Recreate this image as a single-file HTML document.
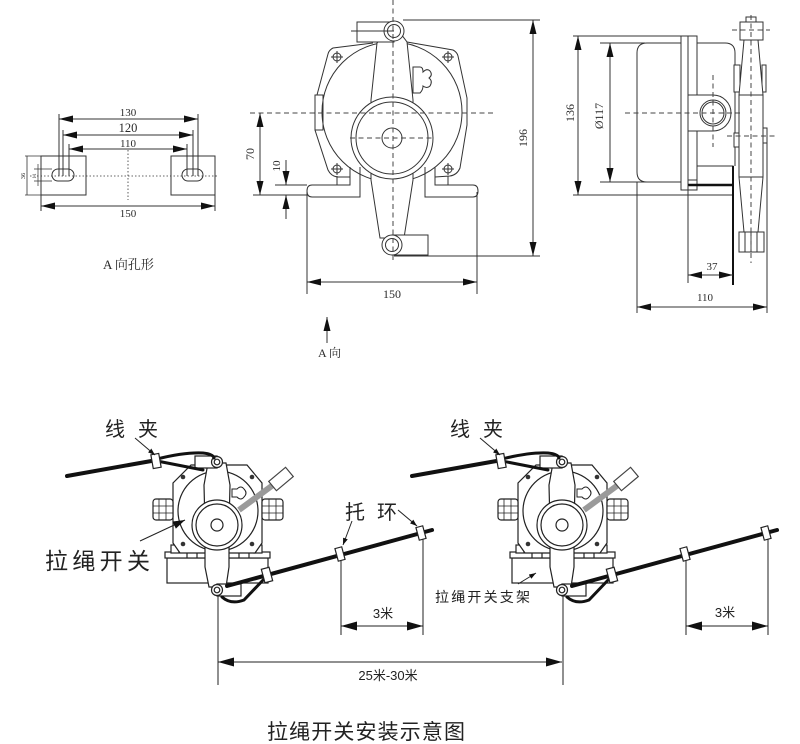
<!DOCTYPE html>
<html><head><meta charset="utf-8"><style>
html,body{margin:0;padding:0;background:#fff;}
svg{display:block;}
.s{font-family:"Liberation Serif","Noto Serif CJK SC",serif;fill:#2a2a2a;}
.k{font-family:"Liberation Sans","Noto Sans CJK SC",sans-serif;fill:#222;}
</style></head><body>
<svg width="800" height="744" viewBox="0 0 800 744" xmlns="http://www.w3.org/2000/svg">
<defs>
<marker id="ar" markerWidth="14" markerHeight="7" refX="14" refY="3.5" orient="auto-start-reverse" markerUnits="userSpaceOnUse"><path d="M0,0L14,3.5L0,7z" fill="#111"/></marker>
<marker id="ab" markerWidth="16" markerHeight="9" refX="16" refY="4.5" orient="auto-start-reverse" markerUnits="userSpaceOnUse"><path d="M0,0L16,4.5L0,9z" fill="#111"/></marker>
<marker id="as" markerWidth="7" markerHeight="5" refX="7" refY="2.5" orient="auto" markerUnits="userSpaceOnUse"><path d="M0,0L7,2.5L0,5z" fill="#111"/></marker>
<marker id="am" markerWidth="12" markerHeight="8" refX="12" refY="4" orient="auto" markerUnits="userSpaceOnUse"><path d="M0,0L12,4L0,8z" fill="#111"/></marker>

<g id="sw" stroke="#222" stroke-width="1.2">
  <!-- bracket -->
  <rect x="-50" y="33" width="101" height="25" fill="#fff"/>
  <rect x="-52" y="27" width="105" height="6" fill="#fff"/>
  <rect x="-46" y="20" width="8" height="8" fill="#fff"/>
  <rect x="37" y="20" width="8" height="8" fill="#fff"/>
  <line x1="-42" y1="17" x2="-42" y2="20"/>
  <line x1="41" y1="17" x2="41" y2="20"/>
  <!-- housing -->
  <polygon points="-26,-60 30,-60 45,-42 45,18 38,28 -37,28 -44,18 -44,-42" fill="#fff"/>
  <circle cx="1" cy="-14" r="40" fill="none"/>
  <path d="M-30,28 L-30,33 M-20,28 L-20,33 M22,28 L22,33 M32,28 L32,33" fill="none"/>
  <!-- bolts -->
  <g fill="#333" stroke="none">
    <circle cx="-34" cy="-48" r="2.3"/><circle cx="35" cy="-48" r="2.3"/>
    <circle cx="-34" cy="19" r="2.3"/><circle cx="35" cy="19" r="2.3"/>
  </g>
  <!-- trefoil -->
  <path d="M15,-36 L20,-36 Q24,-40 27,-36 Q31,-32 27,-28 Q24,-24 20,-28 L15,-28 Z" fill="#fff" stroke-width="1"/>
  <!-- glands -->
  <rect x="-64" y="-26" width="20" height="21" rx="3" fill="#fff"/>
  <path d="M-58,-26 V-5 M-51,-26 V-5 M-64,-19 H-44 M-64,-12 H-44" fill="none" stroke-width="0.8"/>
  <rect x="45" y="-26" width="21" height="21" rx="3" fill="#fff"/>
  <path d="M52,-26 V-5 M59,-26 V-5 M45,-19 H66 M45,-12 H66" fill="none" stroke-width="0.8"/>
  <!-- arm -->
  <polygon points="-9,-62 9,-62 13,-40 12,0 12,42 9,62 -8,62 -12,42 -12,0 -13,-40" fill="#fff"/>
  <!-- pulley -->
  <circle cx="0" cy="0" r="25" fill="#fff"/>
  <circle cx="0" cy="0" r="21" fill="none"/>
  <circle cx="0" cy="0" r="6" fill="#fff"/>
  <!-- rod + handle -->
  <line x1="22" y1="-15" x2="56" y2="-40" stroke="#9a9a9a" stroke-width="6"/>
  <rect x="-11" y="-6" width="22" height="12" fill="#fff" stroke="#444" transform="translate(64,-46) rotate(-40)"/>
  <!-- top lever -->
  <rect x="-22" y="-69" width="22" height="12" fill="#fff"/>
  <circle cx="0" cy="-63" r="5.5" fill="#fff"/>
  <circle cx="0" cy="-63" r="2.8" fill="none"/>
  <!-- bottom lever -->
  <rect x="0" y="59" width="24" height="12" fill="#fff"/>
  <circle cx="0" cy="65" r="5.5" fill="#fff"/>
  <circle cx="0" cy="65" r="2.8" fill="none"/>
  <!-- ropes -->
  <g stroke="#111" stroke-width="4" fill="none" stroke-linecap="round">
    <path d="M-150,-49 L-60,-65"/>
    <path d="M-60,-66 Q-32,-73 -14,-72 Q-4,-71 -3,-67" stroke-width="3"/>
    <path d="M-60,-64 L-14,-55" stroke-width="3"/>
    <path d="M10,61 L215,5"/>
    <path d="M5,72 Q14,80 27,75 L48,53" stroke-width="3"/>
  </g>
  <!-- clips -->
  <rect x="-4" y="-7" width="8" height="14" fill="#fff" transform="translate(-61,-64) rotate(-10)"/>
  <rect x="-4" y="-7" width="8" height="14" fill="#fff" transform="translate(50,50) rotate(-15)"/>
  <rect x="-3.5" y="-6.5" width="7" height="13" fill="#fff" transform="translate(123,29) rotate(-15)"/>
  <rect x="-3.5" y="-6.5" width="7" height="13" fill="#fff" transform="translate(204,8) rotate(-15)"/>
  <!-- dim lines -->
  <path d="M124,36 V110 M206,14 V110 M1,71 V160" fill="none" stroke-width="1"/>
  <line x1="124" y1="101" x2="206" y2="101" stroke-width="1" marker-start="url(#ab)" marker-end="url(#ab)"/>
</g>
</defs>

<!-- ===== A 向孔形 ===== -->
<g stroke="#333" stroke-width="1" fill="none">
  <rect x="41" y="156" width="45" height="39"/>
  <rect x="171" y="156" width="44" height="39"/>
  <rect x="52" y="169" width="22" height="12" rx="6"/>
  <rect x="182" y="169" width="21" height="12" rx="6"/>
  <line x1="30" y1="176" x2="218" y2="176" stroke-dasharray="1.5,2" stroke-width="0.8"/>
  <line x1="128" y1="150" x2="128" y2="200" stroke-dasharray="1.5,2" stroke-width="0.8"/>
  <path d="M59,114V176 M63,130V176 M69,144V176 M187,144V176 M193,130V176 M198,114V176"/>
  <line x1="59" y1="119" x2="198" y2="119" marker-start="url(#ar)" marker-end="url(#ar)"/>
  <line x1="63" y1="135" x2="193" y2="135" marker-start="url(#ar)" marker-end="url(#ar)"/>
  <line x1="69" y1="149" x2="187" y2="149" marker-start="url(#ar)" marker-end="url(#ar)"/>
  <path d="M41,195V211 M215,195V211"/>
  <line x1="41" y1="206" x2="215" y2="206" marker-start="url(#ar)" marker-end="url(#ar)"/>
  <path d="M25,156H41 M25,195H41 M27,156V195" stroke-width="0.8"/>
  <path d="M34,169H52 M34,181H52 M38,164V186" stroke-width="0.7"/>
</g>
<text class="s" x="128" y="116" font-size="11" text-anchor="middle">130</text>
<text class="s" x="128" y="132" font-size="12.5" text-anchor="middle">120</text>
<text class="s" x="128" y="147" font-size="11" text-anchor="middle">110</text>
<text class="s" x="128" y="217" font-size="11" text-anchor="middle">150</text>
<text class="s" font-size="6.5" transform="translate(25,176) rotate(-90)" text-anchor="middle">36</text>
<text class="s" font-size="5.5" transform="translate(36,176) rotate(-90)" text-anchor="middle">11</text>
<text class="s" x="103" y="269" font-size="13">A 向孔形</text>

<!-- ===== Front view ===== -->
<g stroke="#333" stroke-width="1" fill="none">
  <!-- housing -->
  <path d="M373,43 L333,48 Q329,50 328,54 L317,95 L315,130 L328,170 Q331,176 337,177 L350,177" />
  <path d="M407,42 L453,50 Q457,52 458,56 L467,98 L467,125 L460,168 Q457,175 450,176 L435,177"/>
  <rect x="315" y="95" width="8" height="35" fill="#fff"/>
  <circle cx="392" cy="112" r="70"/>
  <!-- bolts -->
  <g>
    <circle cx="337" cy="57" r="4"/><path d="M331,57H343M337,51V63"/>
    <circle cx="448" cy="57" r="4"/><path d="M442,57H454M448,51V63"/>
    <circle cx="337" cy="169" r="4"/><path d="M331,169H343M337,163V175"/>
    <circle cx="448" cy="169" r="4"/><path d="M442,169H454M448,163V175"/>
  </g>
  <!-- trefoil -->
  <path d="M413,67 L413,93 L420,93 Q423,90 423,86 Q427,89 430,86 Q433,81 429,78 Q433,75 430,71 Q427,68 423,72 Q423,67 420,67 Z" fill="#fff"/>
  <!-- feet / brackets -->
  <path d="M350,167 V185 H312 Q307,185 307,191 Q307,197 312,197 H360 V167"/>
  <path d="M337,176 V185"/>
  <path d="M435,167 V185 H473 Q478,185 478,191 Q478,197 473,197 H425 V167"/>
  <path d="M448,176 V185"/>
  <!-- arm -->
  <path d="M385,34 L377,43 L371,100 L371,180 L380,238 L404,238 L413,180 L413,100 L407,42 L401,34 Z" fill="#fff"/>
  <!-- pulley -->
  <circle cx="392" cy="138" r="41" fill="#fff"/>
  <circle cx="392" cy="138" r="36"/>
  <circle cx="392" cy="138" r="10" fill="#fff"/>
  <!-- top tab -->
  <rect x="357" y="22" width="37" height="20" fill="#fff"/>
  <circle cx="394" cy="31" r="10" fill="#fff"/>
  <circle cx="394" cy="31" r="6.5"/>
  <line x1="351" y1="31" x2="394" y2="31"/>
  <!-- bottom tab -->
  <rect x="392" y="235" width="36" height="20" fill="#fff"/>
  <circle cx="392" cy="245" r="10" fill="#fff"/>
  <circle cx="392" cy="245" r="6.5"/>
  <!-- centerlines -->
  <g stroke-dasharray="5,3.5" stroke="#444">
    <line x1="393" y1="0" x2="393" y2="262"/>
    <line x1="250" y1="113" x2="494" y2="113"/>
    <line x1="350" y1="138" x2="434" y2="138"/>
  </g>
  <!-- dims -->
  <path d="M403,20 H540 M394,256 H540"/>
  <line x1="533" y1="20" x2="533" y2="256" marker-start="url(#ar)" marker-end="url(#ar)"/>
  <line x1="260" y1="113" x2="260" y2="195" marker-start="url(#ar)" marker-end="url(#ar)"/>
  <path d="M253,195 H307 M275,185 H307"/>
  <line x1="286" y1="160" x2="286" y2="185" marker-end="url(#ar)"/>
  <line x1="286" y1="219" x2="286" y2="195" marker-end="url(#ar)"/>
  <path d="M307,192 V294 M477,192 V294"/>
  <line x1="307" y1="282" x2="477" y2="282" marker-start="url(#ar)" marker-end="url(#ar)"/>
  <line x1="327" y1="343" x2="327" y2="317" marker-end="url(#ar)"/>
</g>
<text class="s" font-size="12" transform="translate(254,154) rotate(-90)" text-anchor="middle">70</text>
<text class="s" font-size="11" transform="translate(280,166) rotate(-90)" text-anchor="middle">10</text>
<text class="s" font-size="12" transform="translate(527,138) rotate(-90)" text-anchor="middle">196</text>
<text class="s" x="392" y="298" font-size="12" text-anchor="middle">150</text>
<text class="s" x="318" y="357" font-size="12">A 向</text>

<!-- ===== Side view ===== -->
<g stroke="#333" stroke-width="1" fill="none">
  <path d="M573,36 H697 M573,195 H733 M600,43 H645 M600,182 H681"/>
  <line x1="578" y1="36" x2="578" y2="195" marker-start="url(#ar)" marker-end="url(#ar)"/>
  <line x1="610" y1="43" x2="610" y2="182" marker-start="url(#ar)" marker-end="url(#ar)"/>
  <path d="M681,43 H647 Q637,43 637,53 V172 Q637,182 647,182 H681"/>
  <rect x="681" y="36" width="16" height="154" fill="#fff"/>
  <line x1="688" y1="36" x2="688" y2="190"/>
  <path d="M697,43 H725 Q735,43 735,53 V166"/>
  <path d="M688,95 H713 A18,18 0 0 1 713,131 H688 Z" fill="#fff"/>
  <circle cx="713" cy="113" r="13"/>
  <circle cx="713" cy="113" r="11"/>
  <rect x="697" y="166" width="36" height="19" fill="#fff"/>
  <rect x="688" y="180" width="9" height="5"/>
  <line x1="688" y1="185" x2="734" y2="185" stroke-width="2.5" stroke="#111"/>
  <line x1="733" y1="166" x2="733" y2="285" stroke-width="2" stroke="#111"/>
  <line x1="688" y1="185" x2="688" y2="283"/>
  <line x1="688" y1="275" x2="733" y2="275" marker-start="url(#ar)" marker-end="url(#ar)"/>
  <path d="M637,182 V313 M767,137 V313"/>
  <line x1="637" y1="307" x2="767" y2="307" marker-start="url(#ar)" marker-end="url(#ar)"/>
  <!-- lever arm -->
  <rect x="734" y="65" width="6" height="27" fill="#fff"/>
  <rect x="762" y="65" width="4" height="27" fill="#fff"/>
  <rect x="734" y="133" width="6" height="14" fill="#fff"/>
  <rect x="763" y="128" width="4" height="15" fill="#fff"/>
  <polygon points="744,40 758,40 763,95 763,177 758,232 744,232 739,177 739,95" fill="#fff"/>
  <line x1="739" y1="95" x2="763" y2="95"/>
  <line x1="739" y1="177" x2="763" y2="177"/>
  <rect x="740" y="22" width="23" height="18" fill="#fff"/>
  <rect x="746" y="17" width="10" height="5" fill="#fff"/>
  <rect x="739" y="232" width="25" height="20" fill="#fff"/>
  <path d="M745,232V252 M751,232V252 M757,232V252"/>
  <g stroke-dasharray="5,3.5" stroke="#444">
    <line x1="751" y1="15" x2="751" y2="263"/>
    <line x1="732" y1="30" x2="770" y2="30"/>
    <line x1="727" y1="136" x2="775" y2="136"/>
    <line x1="625" y1="113" x2="740" y2="113"/>
    <line x1="713" y1="75" x2="713" y2="147"/>
  </g>
</g>
<text class="s" font-size="12" transform="translate(574,113) rotate(-90)" text-anchor="middle">136</text>
<text class="s" font-size="12" transform="translate(603,116) rotate(-90)" text-anchor="middle">Ø117</text>
<text class="s" x="712" y="270" font-size="11" text-anchor="middle">37</text>
<text class="s" x="705" y="301" font-size="11" text-anchor="middle">110</text>

<!-- ===== Installation diagram ===== -->
<use href="#sw" x="217" y="525"/>
<use href="#sw" x="562" y="525"/>

<g stroke="#222" stroke-width="1" fill="none">
  <line x1="135" y1="438" x2="155" y2="455" marker-end="url(#as)"/>
  <line x1="480" y1="438" x2="500" y2="455" marker-end="url(#as)"/>
  <line x1="352" y1="521" x2="343" y2="545" marker-end="url(#as)"/>
  <line x1="398" y1="510" x2="417" y2="526" marker-end="url(#as)"/>
  <line x1="140" y1="541" x2="185" y2="520" marker-end="url(#am)"/>
  <line x1="518" y1="584" x2="536" y2="573" marker-end="url(#as)"/>
  <line x1="218" y1="662" x2="562" y2="662" marker-start="url(#ab)" marker-end="url(#ab)"/>
</g>

<text class="k" x="105" y="436" font-size="20" textLength="53" lengthAdjust="spacing">线夹</text>
<text class="k" x="450" y="436" font-size="20" textLength="53" lengthAdjust="spacing">线夹</text>
<text class="k" x="45" y="569" font-size="23" textLength="105" lengthAdjust="spacing">拉绳开关</text>
<text class="k" x="345" y="519" font-size="20" textLength="52" lengthAdjust="spacing">托环</text>
<text class="k" x="435" y="602" font-size="14" textLength="95" lengthAdjust="spacing">拉绳开关支架</text>
<text class="k" x="383" y="618" font-size="13" text-anchor="middle">3米</text>
<text class="k" x="725" y="617" font-size="13" text-anchor="middle">3米</text>
<text class="k" x="388" y="680" font-size="13" text-anchor="middle">25米-30米</text>
<text class="k" x="267" y="739" font-size="21" textLength="198" lengthAdjust="spacing">拉绳开关安装示意图</text>
</svg>
</body></html>
